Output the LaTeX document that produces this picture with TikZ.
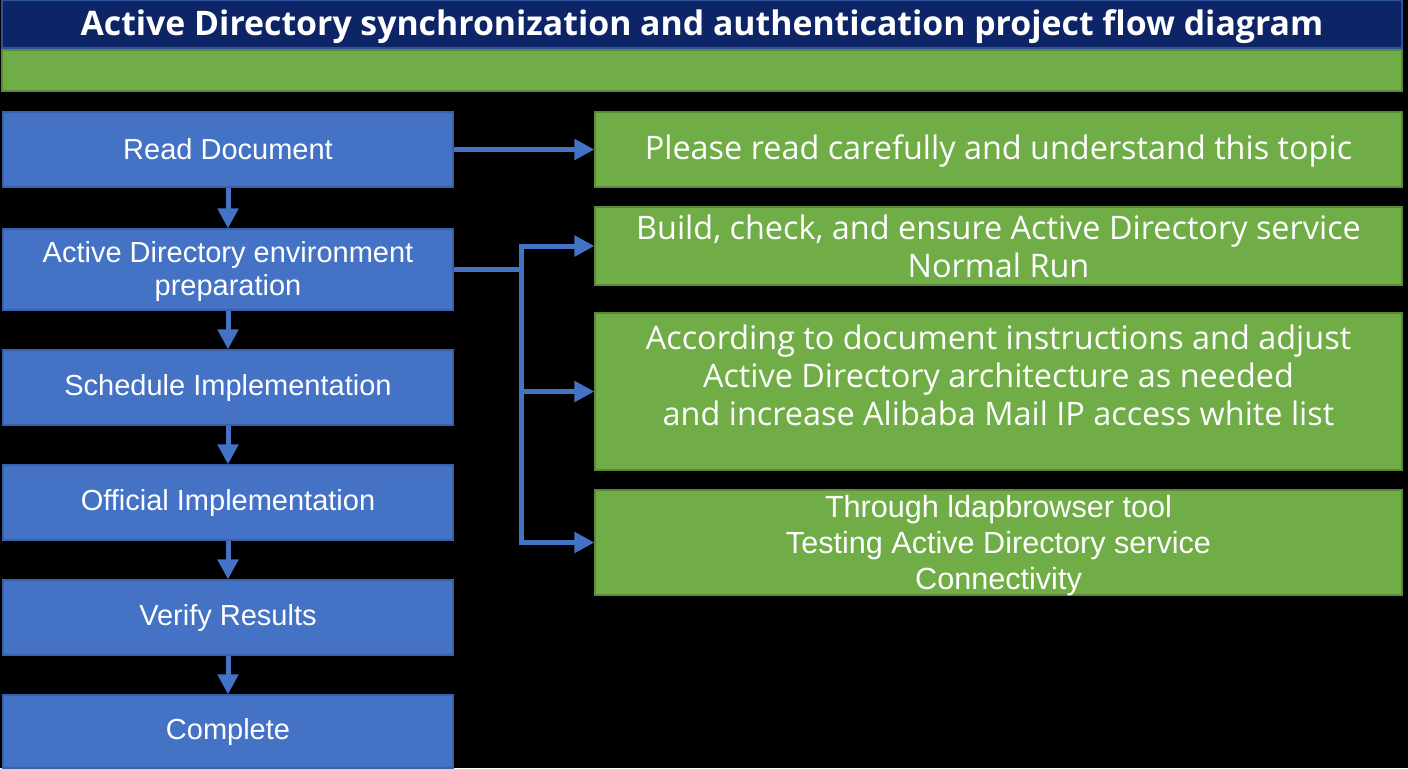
\documentclass[tikz,border=0pt]{standalone}
\usepackage{fontspec}
\setmainfont{Liberation Sans}
\newfontfamily\segoe{Open Sans}
\usepackage{tikz}
\usetikzlibrary{positioning, calc, arrows.meta}

\definecolor{TitleNavy}{RGB}{13,37,102}
\definecolor{BarGreen}{RGB}{112,173,71}
\definecolor{StepBlue}{RGB}{68,114,196}

\begin{document}
\begin{tikzpicture}[x=0.5pt, y=-0.5pt]
  \tikzstyle{box}=[draw, line width=0.6pt, inner sep=2pt, align=center, text=white]
  \tikzstyle{stepbox}=[box, draw=StepBlue!85!black, fill=StepBlue, minimum width=225pt,
  font=\fontsize{14.5}{16.5}\selectfont]
  \tikzstyle{notebox}=[box, draw=BarGreen!80!black, fill=BarGreen, minimum width=403.5pt,
  font=\segoe\fontsize{16.2}{19}\selectfont]
  \tikzstyle{link}=[draw=StepBlue, line width=2.5pt,
  -{Triangle[width=10pt, length=10pt]}]

  % page
  \useasboundingbox (0,0) rectangle (1408,768);
  \fill[black] (0,0) rectangle (1408,768);

  % header
  \node (title) at (702,24) [box, draw=StepBlue!60!TitleNavy, fill=TitleNavy,
  minimum width=700pt, minimum height=24pt, text depth=1pt,
  font=\segoe\bfseries\fontsize{16.9}{19}\selectfont]
  {Active Directory synchronization and authentication project flow diagram};
  \node (bar) at (702,70.5) [box, draw=BarGreen!80!black, fill=BarGreen,
  minimum width=700pt, minimum height=20.5pt] {};

  % steps
  \node (read) at (228,149.5) [stepbox, minimum height=37.5pt] {Read Document};
  \node (prep) at (228,269.5) [stepbox, minimum height=40.5pt, text depth=1pt]
  {Active Directory environment\\preparation};
  \node (sched) at (228,387.5) [stepbox, minimum height=37.5pt] {Schedule Implementation};
  \node (official) at (228,502.5) [stepbox, minimum height=37.5pt] {Official Implementation};
  \node (verify) at (228,617.5) [stepbox, minimum height=37.5pt] {Verify Results};
  \node (done) at (228,731.5) [stepbox, minimum height=36.5pt] {Complete};

  % notes
  \node (topic) at (998.5,149.5) [notebox, minimum height=37.5pt, text depth=2pt]
  {Please read carefully and understand this topic};
  \node (build) at (998.5,246) [notebox, minimum height=39pt]
  {Build, check, and ensure Active Directory service\\Normal Run};
  \node (adjust) at (998.5,391.5) [notebox, minimum height=78.5pt, text depth=16pt]
  {According to document instructions and adjust\\Active Directory architecture as needed\\
  and increase Alibaba Mail IP access white list};
  \node (test) at (998.5,542.5) [notebox, minimum height=52.5pt, text depth=0.5pt,
  font=\fontsize{15.3}{18}\selectfont]
  {Through ldapbrowser tool\\Testing Active Directory service\\Connectivity};

  % flow
  \foreach \a/\b in {read/prep, prep/sched, sched/official, official/verify, verify/done}
    \draw[link] (\a) -- (\b);
  \draw[link] (read) -- (topic);

  \coordinate (split) at (521,269.5);
  \draw[draw=StepBlue, line width=2.5pt] (prep.east) -- (split);
  \draw[link] (split) |- (build.west);
  \draw[link] (split) |- (adjust.west);
  \draw[link] (split) |- (test.west);

\end{tikzpicture}
\end{document}
